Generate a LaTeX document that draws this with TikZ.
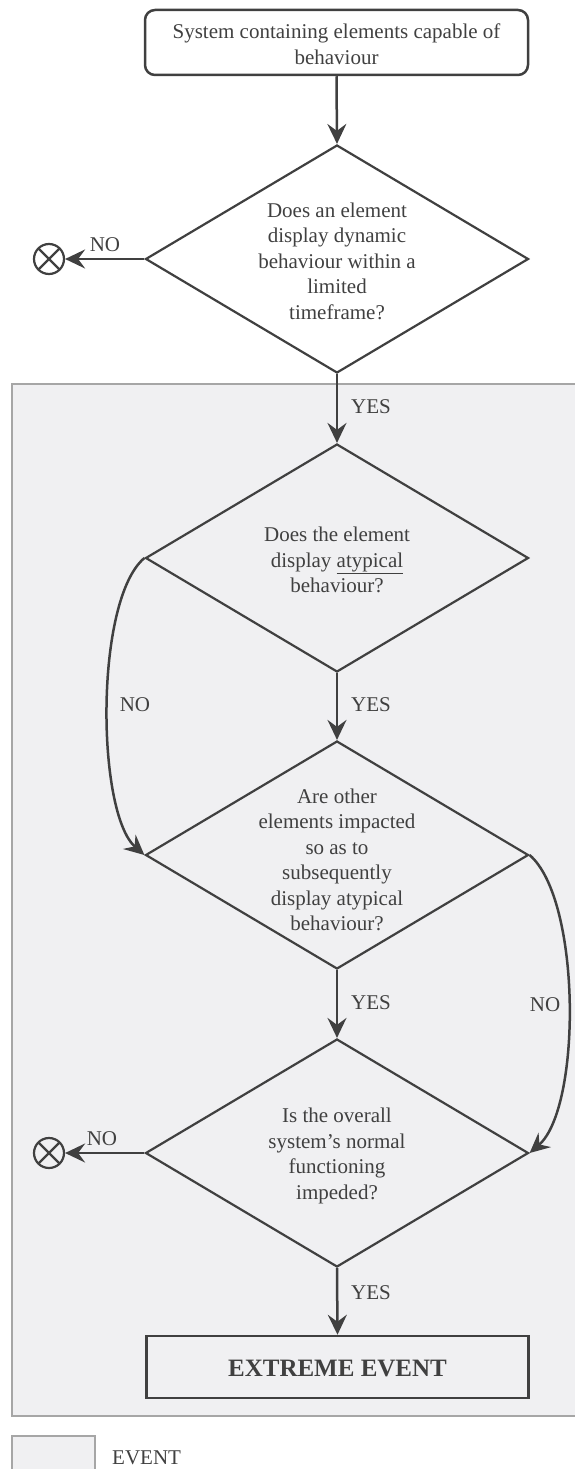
\documentclass[tikz,border=0pt]{standalone}
\usepackage{fontspec}
\setmainfont{Liberation Serif}
\usetikzlibrary{shapes.geometric,arrows.meta}
\definecolor{ink}{HTML}{404040}
\definecolor{evfill}{HTML}{F0F0F2}
\definecolor{evline}{HTML}{A6A6A6}
\begin{document}
\begin{tikzpicture}[x=1pt,y=-1pt,
  dia/.style={shape=diamond, draw=ink, line width=2.2pt, minimum width=383pt, minimum height=228pt, inner sep=0pt},
  qtext/.style={text=ink, align=center, font=\fontsize{21}{25.5}\selectfont, inner sep=0pt},
  lab/.style={text=ink, font=\fontsize{21}{25}\selectfont, inner sep=0pt},
  arr/.style={draw=ink, line width=2.5pt, -{Stealth[length=20pt,width=19pt,inset=7pt]}},
  xcirc/.style={shape=circle, draw=ink, line width=2.2pt, minimum size=30pt, inner sep=0pt,
    path picture={\draw[ink, line width=2.2pt] (path picture bounding box.north west) -- (path picture bounding box.south east)
      (path picture bounding box.north east) -- (path picture bounding box.south west);}},
  evbox/.style={fill=evfill, draw=evline, line width=2pt}
]
\useasboundingbox (0,0) rectangle (575,1469);
% event region
\path[evbox] (12,384) rectangle (600,1416);
% legend
\path[evbox] (12,1436) rectangle (95,1480);
\node[lab, anchor=west] (legtext) at (112,1458) {EVENT};

% top box
\node[draw=ink, line width=2.5pt, rounded corners=10pt, minimum width=383pt, minimum height=65pt, inner sep=0pt] (top) at (336.5,42.5) {};
\node[qtext] (toptext) at (336.5,44) {System containing elements capable of\\behaviour};

% diamonds
\node[dia] (d1) at (337,259) {};
\node[qtext] (t1) at (337,261) {Does an element\\display dynamic\\behaviour within a\\limited\\timeframe?};
\node[dia] (d2) at (337,558) {};
\node[qtext] (t2) at (337,560) {Does the element\\display \underline{atypical}\\behaviour?};
\node[dia] (d3) at (337,855) {};
\node[qtext] (t3) at (337,860) {Are other\\elements impacted\\so as to\\subsequently\\display atypical\\behaviour?};
\node[dia] (d4) at (337,1153) {};
\node[qtext] (t4) at (337,1156) {Is the overall\\system’s normal\\functioning\\impeded?};

% extreme event
\node[draw=ink, line width=2.5pt, minimum width=382pt, minimum height=62pt, inner sep=0pt] (ext) at (337.5,1367) {};
\node[text=ink, font=\fontsize{25}{30}\selectfont\bfseries, inner sep=0pt] (exttext) at (337.5,1368) {EXTREME EVENT};

% terminators
\node[xcirc] (x1) at (49,259) {};
\node[xcirc] (x2) at (49,1153) {};

% connectors
\draw[arr] (top.south) -- (d1.north);
\draw[arr] (d1.west) -- (x1.east);
\draw[arr] (d1.south) -- (d2.north);
\draw[arr] (d2.south) -- (d3.north);
\draw[arr] (d3.south) -- (d4.north);
\draw[arr] (d4.south) -- (ext.north);
\draw[arr] (d4.west) -- (x2.east);
\draw[arr] (d2.west) .. controls +(-50,42) and +(-48,-42) .. (d3.west);
\draw[arr] (d3.east) .. controls +(52,45) and +(52,-45) .. (d4.east);

% labels
\node[lab] (no1) at (105,245) {NO};
\node[lab] (yes1) at (371,407) {YES};
\node[lab] (no2) at (135,705) {NO};
\node[lab] (yes2) at (371,705) {YES};
\node[lab] (yes3) at (371,1003) {YES};
\node[lab] (no3) at (545,1005) {NO};
\node[lab] (no4) at (102,1139) {NO};
\node[lab] (yes4) at (371,1293) {YES};
\end{tikzpicture}
\end{document}
